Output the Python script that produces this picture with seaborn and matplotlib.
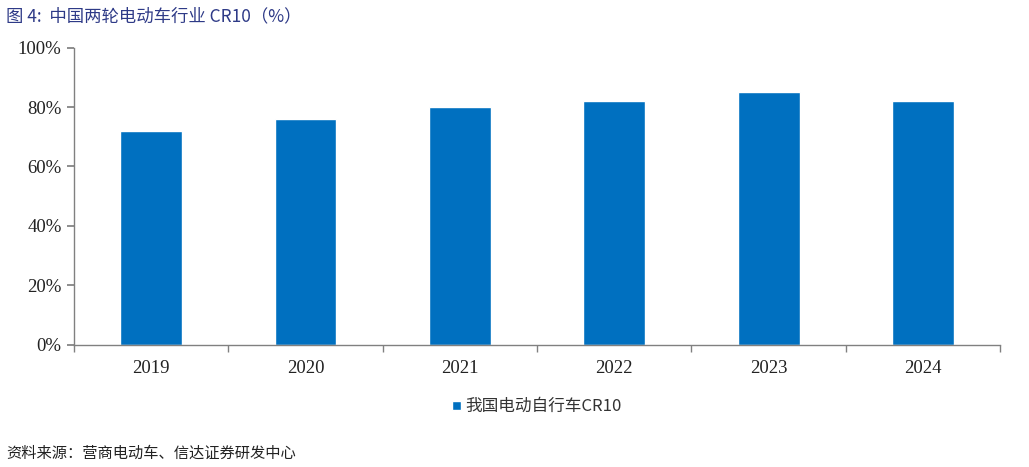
import matplotlib
matplotlib.use('Agg')
import matplotlib.pyplot as plt
import seaborn as sns
import pandas as pd
import numpy as np
from matplotlib.ticker import FuncFormatter, FixedLocator

# Dữ liệu
years = ['2019', '2020', '2021', '2022', '2023', '2024']
cr10 = [72, 76, 80, 82, 85, 82]
series_name = '我国电动自行车CR10'

sns.set_theme(style='white')
plt.rcParams['font.family'] = ['Liberation Serif', 'Noto Sans CJK SC', 'DejaVu Sans']

df = pd.DataFrame({'year': years, 'value': cr10})

fig = plt.figure(figsize=(10.29, 4.67), dpi=100)
ax = fig.add_axes([0.072, 0.262, 0.9, 0.636])

bar_color = '#0070C0'
sns.barplot(data=df, x='year', y='value', color=bar_color, width=0.4,
            saturation=1, ax=ax, label=series_name)

ax.set_ylim(0, 100)
ax.set_xlim(-0.5, len(years) - 0.5)
ax.yaxis.set_major_locator(FixedLocator([0, 20, 40, 60, 80, 100]))
ax.yaxis.set_major_formatter(FuncFormatter(lambda v, p: f'{int(v)}%'))
ax.set_xlabel('')
ax.set_ylabel('')

for s in ['top', 'right']:
    ax.spines[s].set_visible(False)
for s in ['left', 'bottom']:
    ax.spines[s].set_color('#808080')
    ax.spines[s].set_linewidth(1.0)

# vạch chia giữa các danh mục
ax.set_xticks(np.arange(len(years)))
ax.set_xticklabels(years)
ax.tick_params(axis='x', length=0, labelsize=13.5, pad=11, colors='#222222')
ax.set_xticks(np.arange(len(years) + 1) - 0.5, minor=True)
ax.tick_params(axis='x', which='minor', length=5, direction='out', color='#808080', bottom=True)
ax.tick_params(axis='y', length=5, direction='out', color='#808080', left=True,
               labelsize=13.5, pad=4)
for lbl in ax.get_yticklabels():
    lbl.set_color('#222222')

leg = ax.legend(loc='upper center', bbox_to_anchor=(0.5, -0.13), frameon=False,
                handlelength=0.5, handleheight=0.5, handletextpad=0.3,
                prop={'family': ['Noto Sans CJK SC'], 'size': 12})
for t in leg.get_texts():
    t.set_color('#333333')

fig.text(0.006, 0.965, '图 4:  中国两轮电动车行业 CR10（%）', fontsize=12.5,
         color='#2E3A87', family=['Noto Sans CJK SC', 'DejaVu Sans'], va='center')
fig.text(0.006, 0.03, '资料来源：营商电动车、信达证券研发中心', fontsize=11,
         color='#222222', family=['Noto Sans CJK SC'], va='center')

fig.savefig('out.png', dpi=100, facecolor='white')
